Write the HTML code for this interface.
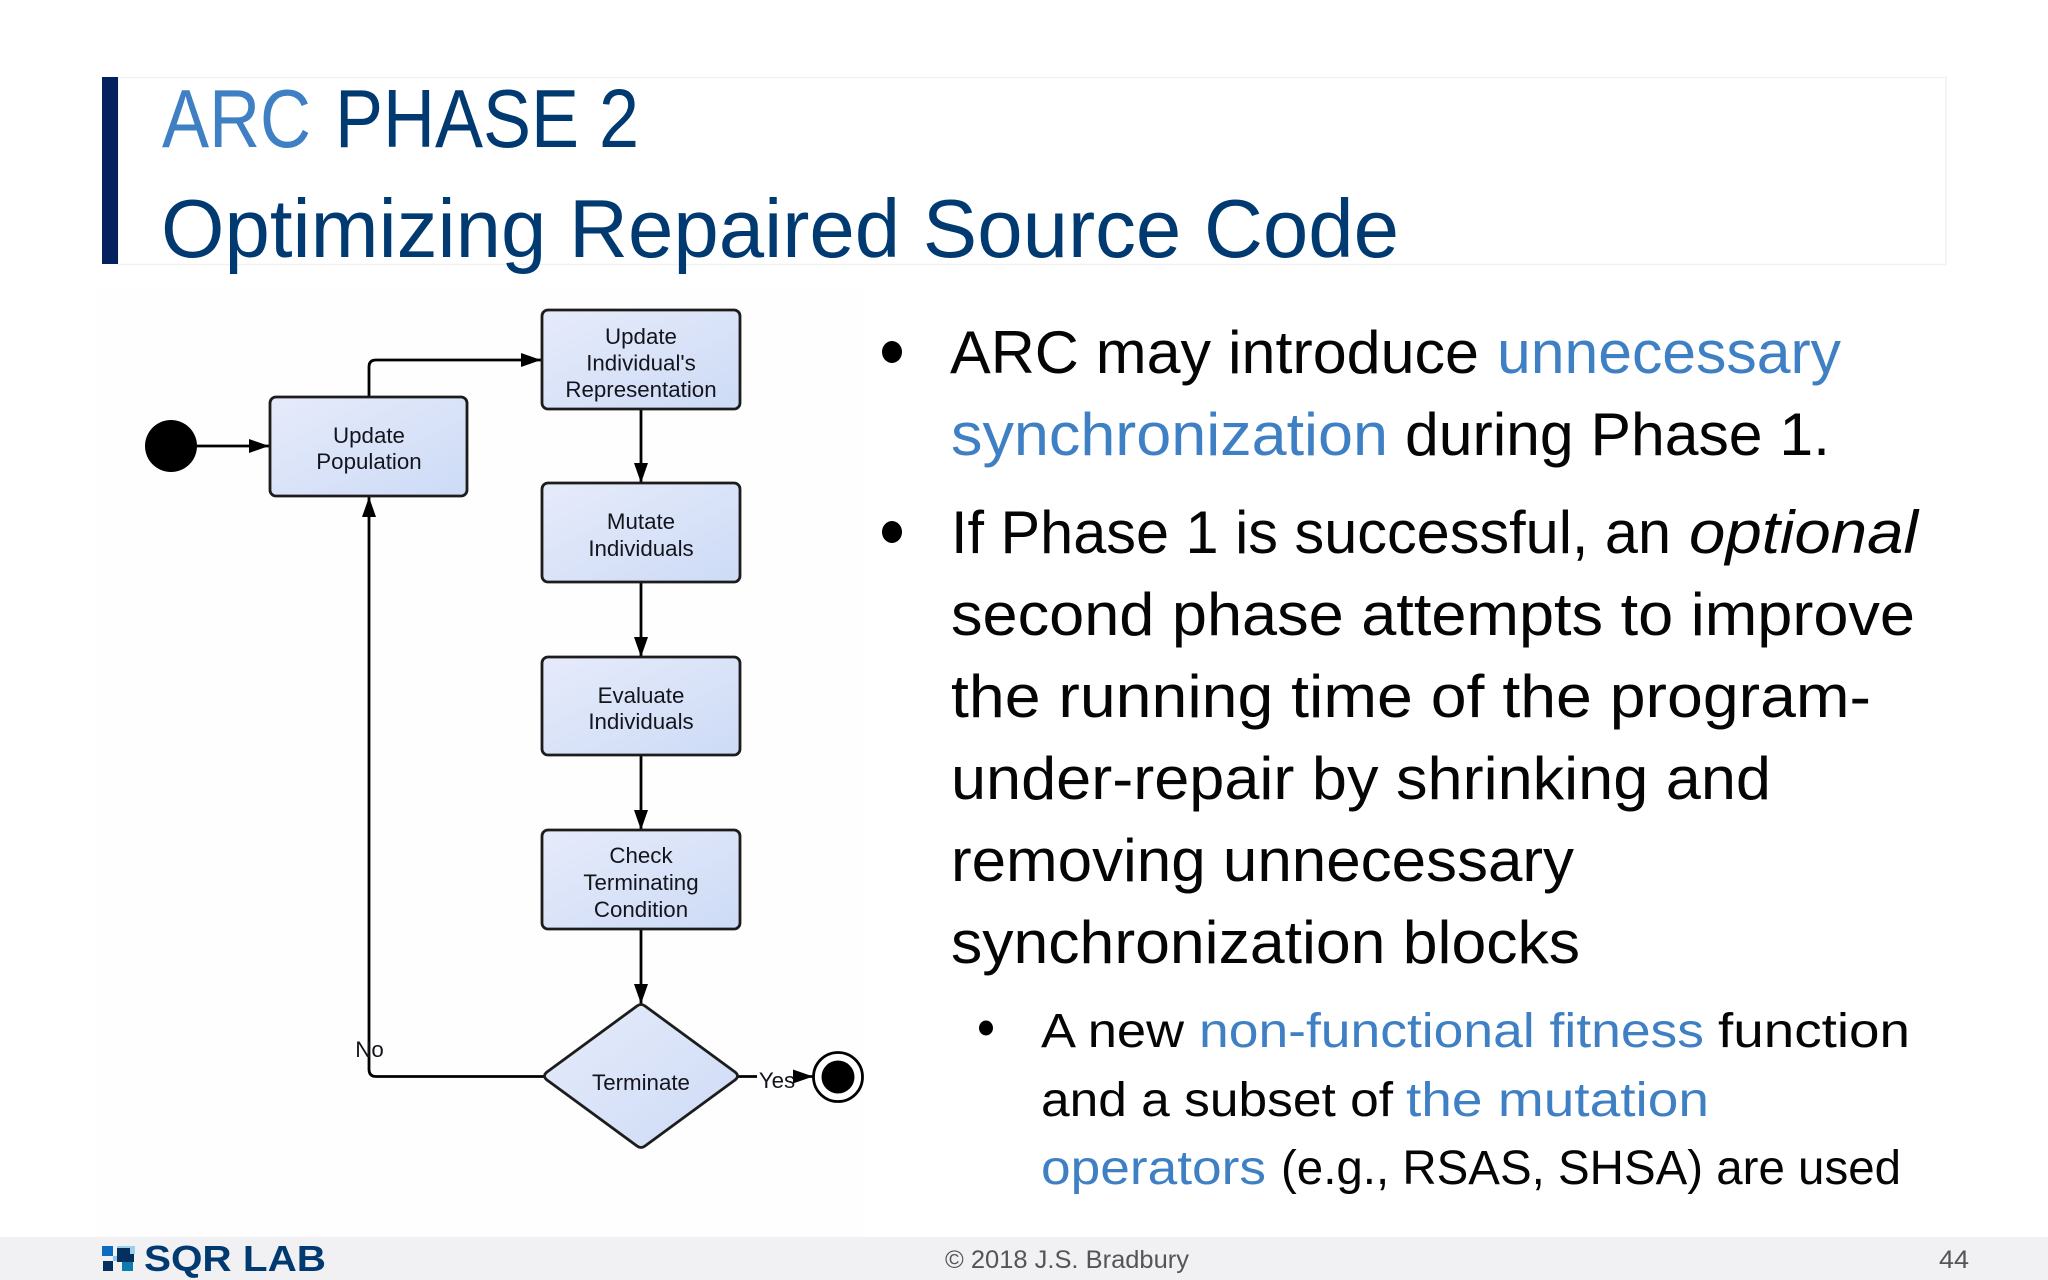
<!DOCTYPE html>
<html><head><meta charset="utf-8"><style>
html,body{margin:0;padding:0;background:#fff;width:2048px;height:1280px;overflow:hidden}
svg{display:block}
.t{font-family:"Liberation Sans",sans-serif}
.b{font-size:60px;fill:#050505}
.s{font-size:48px;fill:#050505}
.bl{fill:#3f80c4}
.n{font-size:22.3px;fill:#14141c;text-anchor:middle}
</style></head><body>
<svg width="2048" height="1280" viewBox="0 0 2048 1280" xmlns="http://www.w3.org/2000/svg" class="t">
<defs>
<linearGradient id="g" x1="0" y1="0" x2="1" y2="1"><stop offset="0" stop-color="#e6ebfa"/><stop offset="1" stop-color="#cddbf6"/></linearGradient>
<marker id="a" viewBox="0 0 20 20" refX="20" refY="10" markerWidth="20" markerHeight="20" markerUnits="userSpaceOnUse" orient="auto"><path d="M0 3L20 10L0 17Z" fill="#000"/></marker>
</defs>
<rect width="2048" height="1280" fill="#fff"/>
<rect x="95" y="290" width="770" height="947" fill="#fefefe"/>
<!-- title -->
<rect x="118" y="77.5" width="1828" height="187" fill="none" stroke="#f1f1f1" stroke-width="1.5"/>
<rect x="102" y="77" width="16" height="187" fill="#04205f"/>
<text x="162" y="147" font-size="83" fill="#3f80c4" textLength="149" lengthAdjust="spacingAndGlyphs">ARC</text>
<text x="335" y="147" font-size="83" fill="#003a70" textLength="304" lengthAdjust="spacingAndGlyphs">PHASE 2</text>
<text x="161" y="257" font-size="83" fill="#003a70" textLength="1238" lengthAdjust="spacingAndGlyphs">Optimizing Repaired Source Code</text>
<!-- connectors -->
<g fill="none" stroke="#000" stroke-width="2.8">
<path d="M197 446H269" marker-end="url(#a)"/>
<path d="M369 397V367Q369 360 376 360H541" marker-end="url(#a)"/>
<path d="M641 409V483" marker-end="url(#a)"/>
<path d="M641 582V657" marker-end="url(#a)"/>
<path d="M641 755V830" marker-end="url(#a)"/>
<path d="M641 929V1004" marker-end="url(#a)"/>
<path d="M544 1076.500H376Q369 1076.500 369 1069V497" marker-end="url(#a)"/>
<path d="M738 1076.500H757"/>
<path d="M796 1076.500H813" marker-end="url(#a)"/>
</g>
<!-- nodes -->
<g fill="url(#g)" stroke="#1c1c1c" stroke-width="2.8">
<rect x="270" y="397" width="197" height="99" rx="6"/>
<rect x="542" y="310" width="198" height="99" rx="6"/>
<rect x="542" y="483" width="198" height="99" rx="6"/>
<rect x="542" y="657" width="198" height="98" rx="6"/>
<rect x="542" y="830" width="198" height="99" rx="6"/>
<path d="M637 1006Q641 1003 645 1006L735 1072Q740 1076 735 1080L645 1146Q641 1149 637 1146L547 1080Q542 1076 547 1072Z" stroke-linejoin="round"/>
</g>
<circle cx="171" cy="446" r="26" fill="#000"/>
<circle cx="838" cy="1077" r="24.5" fill="#fff" stroke="#000" stroke-width="2.8"/>
<circle cx="838" cy="1077" r="16.500" fill="#000"/>
<!-- node labels -->
<g class="n">
<text x="369" y="443">Update</text><text x="369" y="469">Population</text>
<text x="641" y="344">Update</text><text x="641" y="370.500">Individual's</text><text x="641" y="397">Representation</text>
<text x="641" y="529">Mutate</text><text x="641" y="556">Individuals</text>
<text x="641" y="703">Evaluate</text><text x="641" y="729">Individuals</text>
<text x="641" y="863">Check</text><text x="641" y="890">Terminating</text><text x="641" y="917">Condition</text>
<text x="641" y="1090">Terminate</text>
<text x="369.500" y="1057">No</text>
<text x="777" y="1088">Yes</text>
</g>
<!-- bullets -->
<ellipse cx="892" cy="352" rx="10" ry="11" fill="#000"/>
<ellipse cx="892" cy="532" rx="10" ry="11" fill="#000"/>
<ellipse cx="986" cy="1028" rx="7" ry="7.500" fill="#000"/>
<!-- body -->
<g class="b">
<text x="950" y="373" textLength="529" lengthAdjust="spacingAndGlyphs">ARC may introduce</text>
<text x="1497" y="373" textLength="344" lengthAdjust="spacingAndGlyphs" class="bl">unnecessary</text>
<text x="951" y="455" textLength="437" lengthAdjust="spacingAndGlyphs" class="bl">synchronization</text>
<text x="1405" y="455" textLength="425" lengthAdjust="spacingAndGlyphs">during Phase 1.</text>
<text x="951" y="553" textLength="720" lengthAdjust="spacingAndGlyphs">If Phase 1 is successful, an</text>
<text x="1689" y="553" textLength="229" lengthAdjust="spacingAndGlyphs" font-style="italic">optional</text>
<text x="951" y="635" textLength="964" lengthAdjust="spacingAndGlyphs">second phase attempts to improve</text>
<text x="951" y="717" textLength="920" lengthAdjust="spacingAndGlyphs">the running time of the program-</text>
<text x="951" y="799" textLength="820" lengthAdjust="spacingAndGlyphs">under-repair by shrinking and</text>
<text x="951" y="881" textLength="623" lengthAdjust="spacingAndGlyphs">removing unnecessary</text>
<text x="951" y="963" textLength="629" lengthAdjust="spacingAndGlyphs">synchronization blocks</text>
</g>
<g class="s">
<text x="1041" y="1047" textLength="143" lengthAdjust="spacingAndGlyphs">A new</text>
<text x="1199" y="1047" textLength="505" lengthAdjust="spacingAndGlyphs" class="bl">non-functional fitness</text>
<text x="1718" y="1047" textLength="192" lengthAdjust="spacingAndGlyphs">function</text>
<text x="1041" y="1116" textLength="352" lengthAdjust="spacingAndGlyphs">and a subset of</text>
<text x="1406" y="1116" textLength="303" lengthAdjust="spacingAndGlyphs" class="bl">the mutation</text>
<text x="1041" y="1184" textLength="225" lengthAdjust="spacingAndGlyphs" class="bl">operators</text>
<text x="1281" y="1184" textLength="620" lengthAdjust="spacingAndGlyphs">(e.g., RSAS, SHSA) are used</text>
</g>
<!-- footer -->
<rect x="0" y="1237" width="2048" height="43" fill="#f1f0f3"/>
<rect x="102" y="1246" width="11" height="10" fill="#0b6cc0"/>
<rect x="103" y="1261" width="10" height="10" fill="#05305f"/>
<rect x="113" y="1256" width="7" height="5" fill="#8ec6ea"/>
<rect x="117" y="1246" width="18" height="8" fill="#9ad0ee"/>
<rect x="122" y="1260" width="11" height="11" fill="#0a7cb0"/>
<rect x="117" y="1248" width="13" height="14" fill="#04305f"/>
<rect x="126" y="1254" width="8" height="8" fill="#04305f"/>
<text x="144" y="1271" font-size="36" font-weight="bold" fill="#003a70" textLength="182" lengthAdjust="spacingAndGlyphs">SQR LAB</text>
<text x="945" y="1268" font-size="25" fill="#555" textLength="244" lengthAdjust="spacingAndGlyphs">© 2018 J.S. Bradbury</text>
<text x="1939" y="1268" font-size="25" fill="#555" textLength="30" lengthAdjust="spacingAndGlyphs">44</text>
</svg>
</body></html>
